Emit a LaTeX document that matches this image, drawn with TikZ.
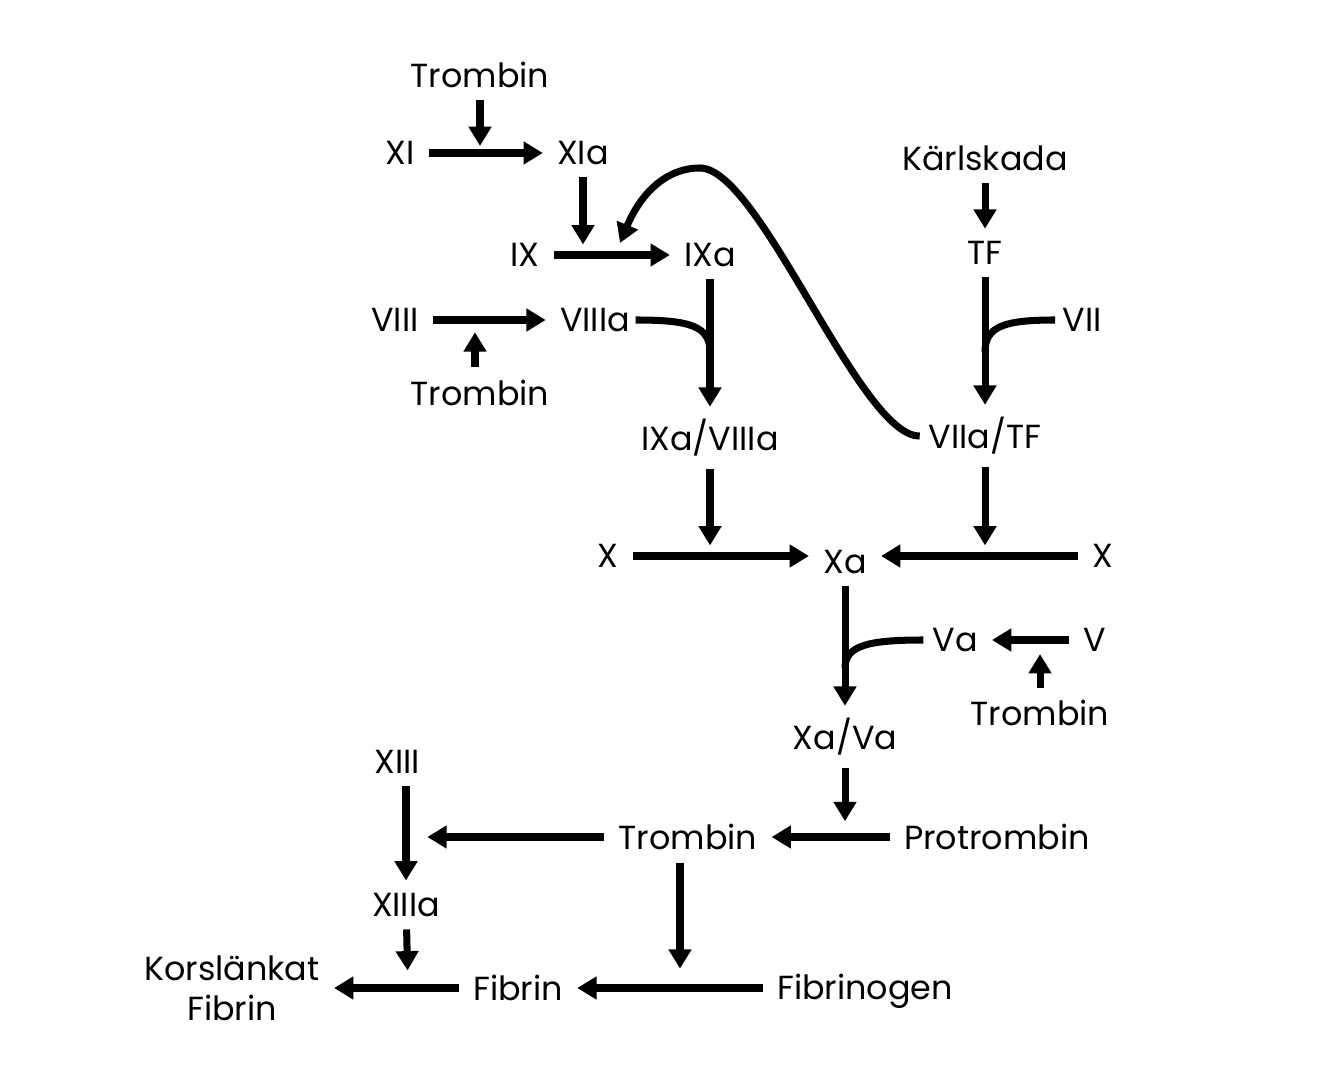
\documentclass[tikz,border=0pt]{standalone}
\usepackage{fontspec}
\setmainfont{Poppins}
\usetikzlibrary{arrows.meta, calc}
\tikzstyle{factor} = [inner xsep=8pt, inner ysep=7pt, font=\fontsize{19}{22}\selectfont, align=center]
\tikzstyle{arrow} = [line width=4pt, -{Triangle[length=11pt, width=12.5pt]}]
\tikzstyle{link} = [line width=4pt]

\begin{document}
\begin{tikzpicture}[x=0.02cm, y=-0.02cm]
			\useasboundingbox (0,0) rectangle (1334,1070);
			\node(trom1)[factor] at (480,75) {Trombin};
			\node(xi)[factor] at (400,153) {XI};
			\node(xia)[factor] at (583,153) {XIa};
			\node(karl)[factor] at (985,158) {Kärlskada};
			\node(ix)[factor] at (525,255) {IX};
			\node(ixa)[factor] at (710,255) {IXa};
			\node(tf)[factor] at (985,253) {TF};
			\node(viii)[factor] at (395,320) {VIII};
			\node(viiia)[factor] at (595,320) {VIIIa};
			\node(vii)[factor] at (1082,320) {VII};
			\node(trom2)[factor] at (480,393) {Trombin};
			\node(ixaviiia)[factor] at (710,438) {IXa/VIIIa};
			\node(viiatf)[factor] at (985,436) {VIIa/TF};
			\node(xleft)[factor] at (608,556) {X};
			\node(xa)[factor] at (845,562) {Xa};
			\node(xright)[factor] at (1103,556) {X};
			\node(va)[factor] at (955,640) {Va};
			\node(v)[factor] at (1095,640) {V};
			\node(trom3)[factor] at (1040,713) {Trombin};
			\node(xava)[factor] at (845,737) {Xa/Va};
			\node(xiii)[factor] at (397,762) {XIII};
			\node(trom4)[factor] at (688,837) {Trombin};
			\node(protrom)[factor] at (997,837) {Protrombin};
			\node(xiiia)[factor] at (406,905) {XIIIa};
			\node(korsfib)[factor, inner ysep=2pt] at (232,988) {Korslänkat\\[1pt]Fibrin};
			\node(fibrin)[factor] at (518,988) {Fibrin};
			\node(fibrinogen)[factor] at (865,991) {Fibrinogen};

			\coordinate(onxi) at (480,153);
			\coordinate(onix) at (583,255);
			\coordinate(onviii) at (475,320);
			\coordinate(onxl) at (710,556);
			\coordinate(onxr) at (985,556);
			\coordinate(onva) at (1040,640);
			\coordinate(onprot) at (845,837);
			\coordinate(onxiii) at (408,837);
			\coordinate(onfibl) at (680,988);
			\coordinate(onfibr) at (408,988);

			\draw [arrow] (xi) -- (xia);
			\draw [arrow, shorten >=4pt] (trom1) -- (onxi);
			\draw [arrow, shorten >=6pt] (xia) -- (onix);
			\draw [arrow] (ix) -- (ixa);
			\draw [arrow] (viii) -- (viiia);
			\draw [arrow, shorten >=7pt] (trom2.north -| onviii) -- (onviii);
			\draw [arrow] (ixa) -- (ixaviiia);
			\draw [link] ([xshift=-5pt]viiia.east) .. controls (690,320) and (710,326) .. (710,352);
			\draw [arrow] (karl) -- (tf);
			\draw [arrow] (tf) -- (viiatf);
			\draw [link] ([xshift=4pt]vii.west) .. controls (1005,320) and (985,326) .. (985,352);
			\draw [arrow] ([xshift=3pt]viiatf.west) .. controls (860,437) and (760,168) .. (700,168) .. controls (665,168) and (640,195) .. (620,243);
			\draw [arrow, shorten >=6pt] (ixaviiia) -- (onxl);
			\draw [arrow, shorten >=6pt] (viiatf) -- (onxr);
			\draw [arrow] (xleft) -- (xleft -| xa.west);
			\draw [arrow] (xright) -- (xright -| xa.east);
			\draw [arrow] (xa) -- (xava);
			\draw [link] ([xshift=3pt]va.west) .. controls (870,640) and (845,645) .. (845,668);
			\draw [arrow] (v) -- (va);
			\draw [arrow, shorten >=8pt] (trom3) -- (onva);
			\draw [arrow, shorten >=9pt] (xava) -- (onprot);
			\draw [arrow] (protrom) -- (trom4);
			\draw [arrow, shorten >=11pt] (trom4) -- (onxiii);
			\draw [arrow] (xiii.south -| xiiia) -- (xiiia);
			\draw [arrow, shorten >=11pt] (trom4.south -| onfibl) -- (onfibl);
			\draw [arrow] (fibrinogen.west |- fibrin) -- (fibrin);
			\draw [arrow, shorten >=10pt] (xiiia) -- (onfibr);
			\draw [arrow] (fibrin) -- (korsfib);
		\end{tikzpicture}
\end{document}
